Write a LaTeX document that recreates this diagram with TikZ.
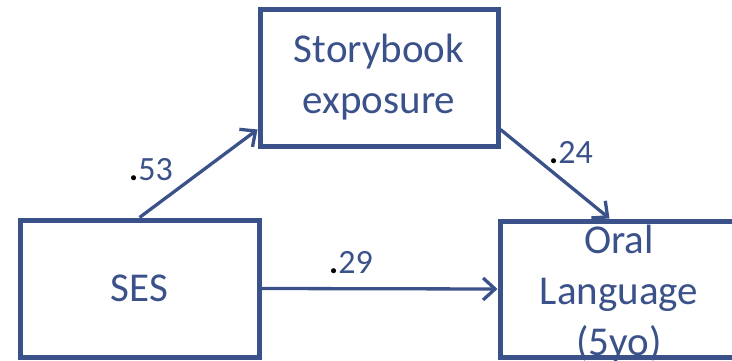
\documentclass[tikz,border=0pt]{standalone}
\usepackage{fontspec}
\setmainfont{Carlito}
\usetikzlibrary{arrows.meta}
\definecolor{pathblue}{RGB}{59,81,137}
\begin{document}
\begin{tikzpicture}[x=1pt,y=-1pt,
  box/.style={draw=pathblue, line width=5pt, inner sep=0pt},
  boxtext/.style={text=pathblue, align=center, inner sep=0pt,
    font=\fontsize{41}{51}\selectfont},
  link/.style={draw=pathblue, line width=3.3pt,
    -{Straight Barb[length=12pt,width=22pt]}},
  coef/.style={text=pathblue, anchor=base west, inner sep=0pt,
    font=\fontsize{34}{40}\selectfont}]
  \useasboundingbox (0,0) rectangle (732,361);
  \clip (0,0) rectangle (732,361);

  % box texts (set first so the frames are drawn over them)
  \node[boxtext] (sestext) at (139.5,288.5) {SES};
  \node[boxtext] (storytext) at (379,77.5) {Storybook\\exposure};
  \node[boxtext] (oraltext) at (619,294) {Oral\\Language\\(5yo)};

  % boxes
  \node[box, minimum width=239pt, minimum height=137pt] (ses) at (139.5,288.5) {};
  \node[box, minimum width=238pt, minimum height=137pt] (story) at (379,78.5) {};
  \node[box, minimum width=238pt, minimum height=136pt] (oral) at (619,289) {};

  % paths
  \draw[link] (ses.north) -- ([yshift=20pt]story.south west);
  \draw[link] ([yshift=20pt]story.south east) -- ([xshift=112pt]oral.north west);
  \draw[link] (ses.east) -- (oral.west);

  % path coefficients
  \node[coef] (c53) at (129,180) {\textcolor{black}{\textbf{.}}53};
  \node[coef] (c24) at (549,164) {\textcolor{black}{\textbf{.}}24};
  \node[coef] (c29) at (329,273) {\textcolor{black}{\textbf{.}}29};
\end{tikzpicture}
\end{document}
